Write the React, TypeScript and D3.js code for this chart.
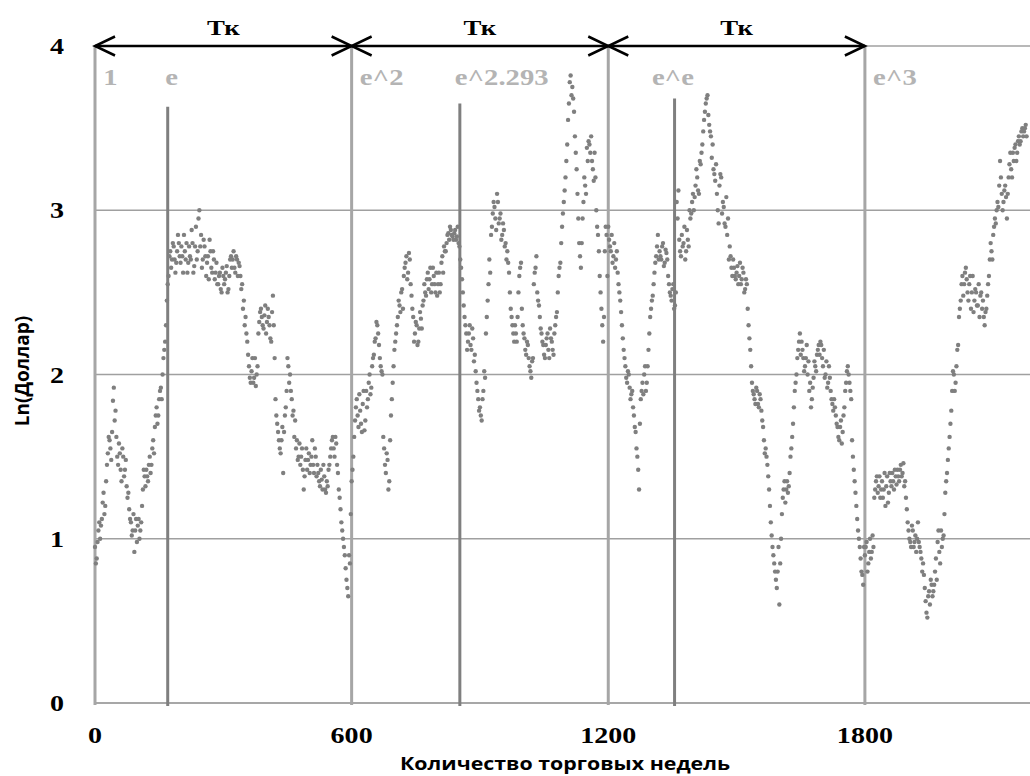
import React from 'react';
import * as d3 from 'd3';

// weekly step between the read-off points; second readings sit 2 weeks later
const WEEK_STEP = 4;
const SECOND_OFFSET = 2;

// ln(dollar) values, weeks 0..596
const cycle1 = [
  0.95, 0.88, 1.05, 1.0, 1.12, 1.28, 1.2, 1.45, 1.62, 1.55,
  1.65, 1.92, 1.78, 1.5, 1.58, 1.42, 1.55, 1.38, 1.48, 1.25,
  1.18, 1.1, 1.05, 0.92, 1.12, 1.08, 1.0, 1.1, 1.3, 1.38,
  1.42, 1.35, 1.5, 1.45, 1.6, 1.68, 1.8, 1.75, 1.9, 1.85,
  2.1, 2.2, 2.45, 2.6, 2.75, 2.7, 2.78, 2.62, 2.75, 2.8,
  2.68, 2.72, 2.85, 2.7, 2.62, 2.78, 2.7, 2.8, 2.66, 2.9,
  2.75, 3.0, 2.85, 2.7, 2.78, 2.6, 2.72, 2.82, 2.65, 2.75,
  2.58, 2.68, 2.55, 2.62, 2.5, 2.6, 2.58, 2.66, 2.52, 2.7,
  2.65, 2.75, 2.62, 2.7, 2.68, 2.6, 2.55, 2.45, 2.35, 2.2,
  2.05, 1.95, 2.1, 1.98, 1.93, 2.05, 2.32, 2.4, 2.3, 2.36,
  2.25, 2.4, 2.3, 2.2, 2.48, 2.1, 1.75, 1.65, 1.55, 1.6,
  1.4, 1.75, 1.9, 2.05, 2.0, 1.85, 1.78, 1.72, 1.6, 1.5,
  1.45, 1.55, 1.3, 1.48, 1.42, 1.52, 1.45, 1.6, 1.4, 1.5,
  1.45, 1.35, 1.42, 1.3, 1.38, 1.28, 1.32, 1.45, 1.55, 1.62,
  1.5, 1.58, 1.4, 1.25, 1.1, 1.0, 0.9, 0.75, 0.65, 0.85,
];
// weeks 2..598
const cycle1b = [
  0.85, 0.98, 1.1, 1.08, 1.22, 1.15, 1.35, 1.52, 1.6, 1.48,
  1.84, 1.72, 1.62, 1.45, 1.52, 1.35, 1.5, 1.42, 1.32, 1.28,
  1.12, 1.02, 1.15, 1.05, 0.98, 1.12, 1.05, 1.2, 1.42, 1.32,
  1.38, 1.45, 1.4, 1.55, 1.52, 1.75, 1.7, 1.85, 1.92, 2.0,
  2.15, 2.3, 2.55, 2.72, 2.65, 2.8, 2.7, 2.68, 2.85, 2.72,
  2.78, 2.62, 2.75, 2.8, 2.68, 2.72, 2.88, 2.62, 2.78, 2.7,
  2.95, 2.78, 2.65, 2.82, 2.72, 2.68, 2.58, 2.75, 2.62, 2.7,
  2.62, 2.55, 2.6, 2.52, 2.65, 2.55, 2.62, 2.5, 2.6, 2.72,
  2.7, 2.65, 2.72, 2.6, 2.66, 2.52, 2.4, 2.3, 2.25, 2.12,
  1.98, 2.02, 1.95, 2.1, 2.0, 2.25, 2.38, 2.35, 2.28, 2.42,
  2.32, 2.35, 2.22, 2.38, 2.3, 1.85, 1.7, 1.6, 1.52, 1.68,
  1.65, 1.8, 2.1, 1.95, 1.9, 1.75, 1.62, 1.55, 1.48, 1.58,
  1.5, 1.42, 1.38, 1.55, 1.48, 1.4, 1.5, 1.45, 1.55, 1.38,
  1.4, 1.32, 1.36, 1.45, 1.3, 1.35, 1.42, 1.5, 1.6, 1.55,
  1.62, 1.45, 1.3, 1.18, 1.05, 0.95, 0.82, 0.7, 0.9, 1.15,
];

// weeks 600..1196
const cycle2 = [
  1.35, 1.5, 1.72, 1.85, 1.68, 1.78, 1.65, 1.9, 1.72, 1.8,
  1.95, 1.88, 2.05, 2.12, 2.22, 2.3, 2.18, 2.05, 2.0, 1.55,
  1.4, 1.48, 1.35, 1.75, 1.95, 2.15, 2.25, 2.35, 2.42, 2.5,
  2.4, 2.65, 2.72, 2.62, 2.7, 2.48, 2.35, 2.25, 2.3, 2.2,
  2.38, 2.28, 2.45, 2.5, 2.58, 2.52, 2.65, 2.55, 2.6, 2.5,
  2.48, 2.62, 2.55, 2.72, 2.78, 2.75, 2.85, 2.82, 2.88, 2.84,
  2.86, 2.82, 2.9, 2.78, 2.65, 2.5, 2.35, 2.25, 2.2, 2.3,
  2.15, 2.22, 2.12, 1.95, 1.85, 1.8, 1.72, 1.9, 1.98, 2.35,
  2.55, 2.62, 2.9, 3.05, 2.95, 3.1, 2.92, 2.98, 2.85, 2.88,
  2.8, 2.75, 2.62, 2.4, 2.3, 2.2, 2.25, 2.35, 2.6, 2.68,
  2.3, 2.22, 2.12, 2.18, 2.05, 1.98, 2.1, 2.62, 2.72, 2.45,
  2.35, 2.25, 2.18, 2.1, 2.22, 2.15, 2.28, 2.2, 2.12, 2.3,
  2.38, 2.6, 2.68, 2.9, 3.05, 3.2, 3.4, 3.65, 3.82, 3.75,
  3.6, 3.35, 3.1, 2.8, 2.65, 2.95, 3.2, 3.1, 3.3, 3.4,
  3.45, 3.25, 3.35, 3.0, 2.85, 2.6, 2.4, 2.2, 2.75, 2.85,
];
// weeks 602..1198
const cycle2b = [
  1.42, 1.62, 1.8, 1.75, 1.88, 1.7, 1.82, 1.66, 1.9, 1.85,
  2.0, 1.92, 2.1, 2.2, 2.32, 2.25, 2.1, 2.02, 1.62, 1.45,
  1.52, 1.3, 1.6, 1.85, 2.05, 2.2, 2.3, 2.45, 2.38, 2.52,
  2.6, 2.68, 2.58, 2.74, 2.55, 2.4, 2.2, 2.32, 2.18, 2.28,
  2.34, 2.42, 2.55, 2.48, 2.62, 2.58, 2.5, 2.65, 2.55, 2.62,
  2.55, 2.5, 2.68, 2.62, 2.75, 2.8, 2.86, 2.9, 2.85, 2.82,
  2.88, 2.84, 2.8, 2.7, 2.58, 2.42, 2.3, 2.15, 2.25, 2.18,
  2.28, 2.08, 2.02, 1.9, 1.78, 1.75, 1.85, 2.02, 2.25, 2.45,
  2.7, 2.85, 2.98, 3.02, 2.88, 3.05, 2.95, 2.82, 2.92, 2.78,
  2.7, 2.68, 2.5, 2.35, 2.25, 2.3, 2.2, 2.5, 2.65, 2.4,
  2.25, 2.15, 2.2, 2.1, 2.02, 2.08, 2.55, 2.65, 2.5, 2.42,
  2.28, 2.2, 2.12, 2.18, 2.25, 2.1, 2.22, 2.15, 2.25, 2.35,
  2.5, 2.65, 2.8, 2.98, 3.12, 3.3, 3.55, 3.78, 3.7, 3.68,
  3.45, 3.25, 2.95, 2.72, 2.8, 3.05, 3.15, 3.38, 3.42, 3.35,
  3.3, 3.18, 3.2, 2.9, 2.75, 2.5, 2.3, 2.35, 2.9, 2.6,
];

// weeks 1200..1796
const cycle3 = [
  2.9, 2.78, 2.85, 2.72, 2.65, 2.75, 2.55, 2.45, 2.3, 2.15,
  2.05, 1.95, 2.0, 1.85, 1.9, 1.75, 1.65, 1.5, 1.3, 1.85,
  1.95, 2.0, 1.9, 2.05, 2.25, 2.4, 2.48, 2.62, 2.72, 2.85,
  2.75, 2.7, 2.8, 2.68, 2.74, 2.6, 2.5, 2.45, 2.55, 2.42,
  3.05, 3.12, 2.75, 2.85, 2.8, 2.7, 2.88, 2.78, 2.95, 3.05,
  3.0, 3.15, 3.2, 3.1, 3.28, 3.4, 3.55, 3.65, 3.7, 3.52,
  3.45, 3.4, 3.22, 3.28, 3.0, 3.15, 3.2, 3.05, 2.92, 3.08,
  2.95, 2.78, 2.65, 2.7, 2.6, 2.62, 2.55, 2.68, 2.58, 2.62,
  2.52, 2.55, 2.3, 2.15, 1.95, 1.88, 1.82, 1.9, 1.8, 1.85,
  1.72, 1.6, 1.55, 1.45, 1.3, 1.1, 0.95, 0.85, 0.75, 0.8,
  0.6, 1.0, 1.25, 1.35, 1.3, 1.28, 1.4, 1.55, 1.7, 1.9,
  2.0, 2.15, 2.25, 2.2, 2.1, 2.05, 2.18, 2.08, 1.95, 1.85,
  1.98, 2.05, 2.12, 2.18, 2.2, 2.1, 2.15, 2.0, 1.92, 2.05,
  1.9, 1.82, 1.85, 1.75, 1.68, 1.6, 1.72, 1.65, 1.8, 1.95,
  2.05, 1.95, 1.85, 1.5, 1.35, 1.2, 1.05, 0.95, 0.8, 0.72,
];
// weeks 1202..1798
const cycle3b = [
  2.82, 2.75, 2.68, 2.8, 2.7, 2.62, 2.5, 2.38, 2.22, 2.1,
  1.98, 2.02, 1.92, 1.88, 1.8, 1.68, 1.55, 1.42, 1.7, 1.9,
  1.88, 2.05, 1.95, 2.15, 2.35, 2.45, 2.55, 2.68, 2.78, 2.7,
  2.72, 2.78, 2.66, 2.76, 2.7, 2.55, 2.48, 2.52, 2.4, 2.5,
  2.95, 2.82, 2.72, 2.78, 2.9, 2.75, 2.82, 3.0, 2.98, 3.1,
  3.08, 3.25, 3.12, 3.3, 3.35, 3.48, 3.6, 3.68, 3.58, 3.48,
  3.32, 3.25, 3.18, 3.1, 2.92, 3.22, 2.98, 3.02, 2.9, 2.85,
  2.7, 2.72, 2.6, 2.65, 2.58, 2.66, 2.6, 2.55, 2.65, 2.5,
  2.58, 2.4, 2.22, 2.05, 1.9, 1.85, 1.92, 1.82, 1.88, 1.78,
  1.68, 1.52, 1.5, 1.38, 1.2, 1.02, 0.9, 0.8, 0.7, 0.95,
  0.85, 1.15, 1.3, 1.22, 1.35, 1.32, 1.5, 1.62, 1.8, 1.95,
  2.1, 2.2, 2.12, 2.15, 2.02, 2.1, 2.0, 1.9, 1.8, 1.92,
  2.08, 2.02, 2.15, 2.12, 2.18, 2.05, 1.98, 2.08, 1.95, 1.98,
  1.85, 1.78, 1.8, 1.7, 1.62, 1.68, 1.58, 1.75, 1.9, 2.02,
  2.0, 1.9, 1.6, 1.42, 1.28, 1.12, 1.0, 0.88, 0.78, 0.95,
];

// weeks 1800..2176
const cycle4 = [
  0.9, 0.98, 0.85, 1.0, 0.92, 0.95, 1.3, 1.38, 1.32, 1.25,
  1.35, 1.3, 1.2, 1.38, 1.28, 1.35, 1.4, 1.3, 1.38, 1.42,
  1.35, 1.45, 1.4, 1.32, 1.25, 1.1, 1.0, 0.95, 1.05, 0.98,
  0.92, 1.1, 0.95, 0.88, 0.85, 0.7, 0.55, 0.65, 0.6, 0.72,
  0.68, 0.8, 0.75, 1.05, 0.85, 0.95, 1.02, 1.28, 1.4, 1.55,
  1.7, 1.9, 2.0, 1.95, 2.15, 2.35, 2.45, 2.6, 2.55, 2.65,
  2.5, 2.55, 2.4, 2.6, 2.45, 2.5, 2.42, 2.35, 2.5, 2.45,
  2.3, 2.4, 2.55, 2.7, 2.75, 2.85, 2.95, 3.0, 3.02, 3.3,
  3.1, 3.05, 3.15, 2.95, 3.2, 3.35, 3.2, 3.3, 3.4, 3.35,
  3.45, 3.42, 3.5, 3.48, 3.52,
];
// weeks 1802..2178
const cycle4b = [
  0.95, 0.8, 0.92, 0.88, 1.02, 1.25, 1.35, 1.28, 1.38, 1.3,
  1.25, 1.4, 1.32, 1.22, 1.4, 1.32, 1.35, 1.42, 1.33, 1.38,
  1.42, 1.38, 1.46, 1.35, 1.18, 1.05, 0.98, 1.08, 0.95, 1.02,
  1.0, 0.98, 0.92, 0.8, 0.78, 0.62, 0.52, 0.68, 0.75, 0.65,
  0.72, 0.88, 0.98, 0.92, 1.05, 1.0, 1.15, 1.35, 1.48, 1.62,
  1.78, 2.02, 1.9, 2.05, 2.18, 2.4, 2.55, 2.48, 2.62, 2.58,
  2.45, 2.6, 2.5, 2.38, 2.52, 2.42, 2.55, 2.48, 2.4, 2.35,
  2.38, 2.48, 2.6, 2.8, 2.7, 2.9, 2.92, 3.05, 3.15, 3.2,
  3.0, 3.12, 3.08, 3.1, 3.28, 3.25, 3.35, 3.38, 3.3, 3.42,
  3.4, 3.48, 3.45, 3.5, 3.45,
];

const cycleStarts = [0, 600, 1200, 1800];
const cyclesA = [cycle1, cycle2, cycle3, cycle4];
const cyclesB = [cycle1b, cycle2b, cycle3b, cycle4b];

const xTicks = [0, 600, 1200, 1800];
const yTicks = [0, 1, 2, 3, 4];

// Тк arrows between these weeks
const arrowBounds = [0, 600, 1200, 1800];
const arrowLabel = 'Тк';

// dark marker lines
const markerWeeks = [170, 853, 1355];
const markerTops = [3.63, 3.65, 3.68];

// grey annotations
const powerLabels = ['1', 'e', 'e^2', 'e^2.293', 'e^e', 'e^3'];
const powerLabelWeeks = [19, 164, 619, 841, 1302, 1819];

const width = 1030;
const height = 776;
const margin = { top: 46, right: 0, bottom: 73, left: 95 };
const serif = '"Liberation Serif", "Times New Roman", serif';
const sans = '"Open Sans", "DejaVu Sans", sans-serif';
const STRETCH = 1.22;

const SText = ({ x, y, anchor = 'middle', size, fill = '#000', family = serif, children }: any) => (
  <text
    transform={`translate(${x},${y}) scale(${STRETCH},1)`}
    textAnchor={anchor}
    fontFamily={family}
    fontWeight="bold"
    fontSize={size}
    fill={fill}
  >
    {children}
  </text>
);

export default function App() {
  const x = d3.scaleLinear().domain([0, 2186]).range([margin.left, width - margin.right]);
  const y = d3.scaleLinear().domain([0, 4]).range([height - margin.bottom, margin.top]);

  const points: { week: number; value: number }[] = [];
  cyclesA.forEach((vals, c) => {
    vals.forEach((v, i) => points.push({ week: cycleStarts[c] + i * WEEK_STEP, value: v }));
  });
  cyclesB.forEach((vals, c) => {
    vals.forEach((v, i) => points.push({ week: cycleStarts[c] + i * WEEK_STEP + SECOND_OFFSET, value: v }));
  });

  const arrowY = y(4);
  const head = 20;
  const half = 9.5;

  return (
    <svg width={width} height={height} style={{ position: 'absolute', left: 0, top: 0, background: '#fff' }}>
      {/* horizontal grid */}
      {yTicks.filter((t) => t > 0).map((t) => (
        <line key={t} x1={x(0)} x2={width} y1={y(t)} y2={y(t)} stroke="#a0a0a0" strokeWidth={1.5} />
      ))}
      {/* x axis line */}
      <line x1={x(0)} x2={width} y1={y(0)} y2={y(0)} stroke="#8a8a8a" strokeWidth={1.5} />
      {/* light vertical lines */}
      {xTicks.map((t) => (
        <line key={t} x1={x(t)} x2={x(t)} y1={y(4)} y2={y(0) + 2} stroke="#a6a6a6" strokeWidth={3} />
      ))}
      {/* dark marker lines */}
      {markerWeeks.map((w, i) => (
        <line key={w} x1={x(w)} x2={x(w)} y1={y(markerTops[i])} y2={y(0) + 3} stroke="#7f7f7f" strokeWidth={3} />
      ))}
      {/* scatter */}
      <g fill="#7f7f7f">
        {points.map((p, i) => (
          <circle key={i} cx={x(p.week)} cy={y(p.value)} r={2.2} />
        ))}
      </g>
      {/* arrows */}
      {arrowBounds.slice(0, -1).map((b, i) => {
        const x1 = x(b);
        const x2 = x(arrowBounds[i + 1]);
        return (
          <g key={b} stroke="#000" strokeWidth={2.5} fill="none">
            <line x1={x1} x2={x2} y1={arrowY} y2={arrowY} />
            <polyline points={`${x1 + head},${arrowY - half} ${x1},${arrowY} ${x1 + head},${arrowY + half}`} />
            <polyline points={`${x2 - head},${arrowY - half} ${x2},${arrowY} ${x2 - head},${arrowY + half}`} />
          </g>
        );
      })}
      {arrowBounds.slice(0, -1).map((b, i) => (
        <SText key={b} x={(x(b) + x(arrowBounds[i + 1])) / 2} y={35} size={22}>
          {arrowLabel}
        </SText>
      ))}
      {/* grey annotations */}
      {powerLabels.map((l, i) => (
        <SText key={l} x={x(powerLabelWeeks[i])} y={85} anchor="start" size={23.5} fill="#b4b4b4">
          {l}
        </SText>
      ))}
      {/* y ticks */}
      {yTicks.map((t) => (
        <SText key={t} x={64} y={y(t) + 8} anchor="end" size={23}>
          {t}
        </SText>
      ))}
      {/* x ticks */}
      {xTicks.map((t) => (
        <SText key={t} x={x(t)} y={743} size={23}>
          {t}
        </SText>
      ))}
      <SText x={565} y={770} size={17.5} family={sans}>
        Количество торговых недель
      </SText>
      <g transform="translate(29,371) rotate(-90)">
        <text textAnchor="middle" fontFamily={sans} fontWeight="bold" fontSize={19} fill="#000">
          Ln(Доллар)
        </text>
      </g>
    </svg>
  );
}
